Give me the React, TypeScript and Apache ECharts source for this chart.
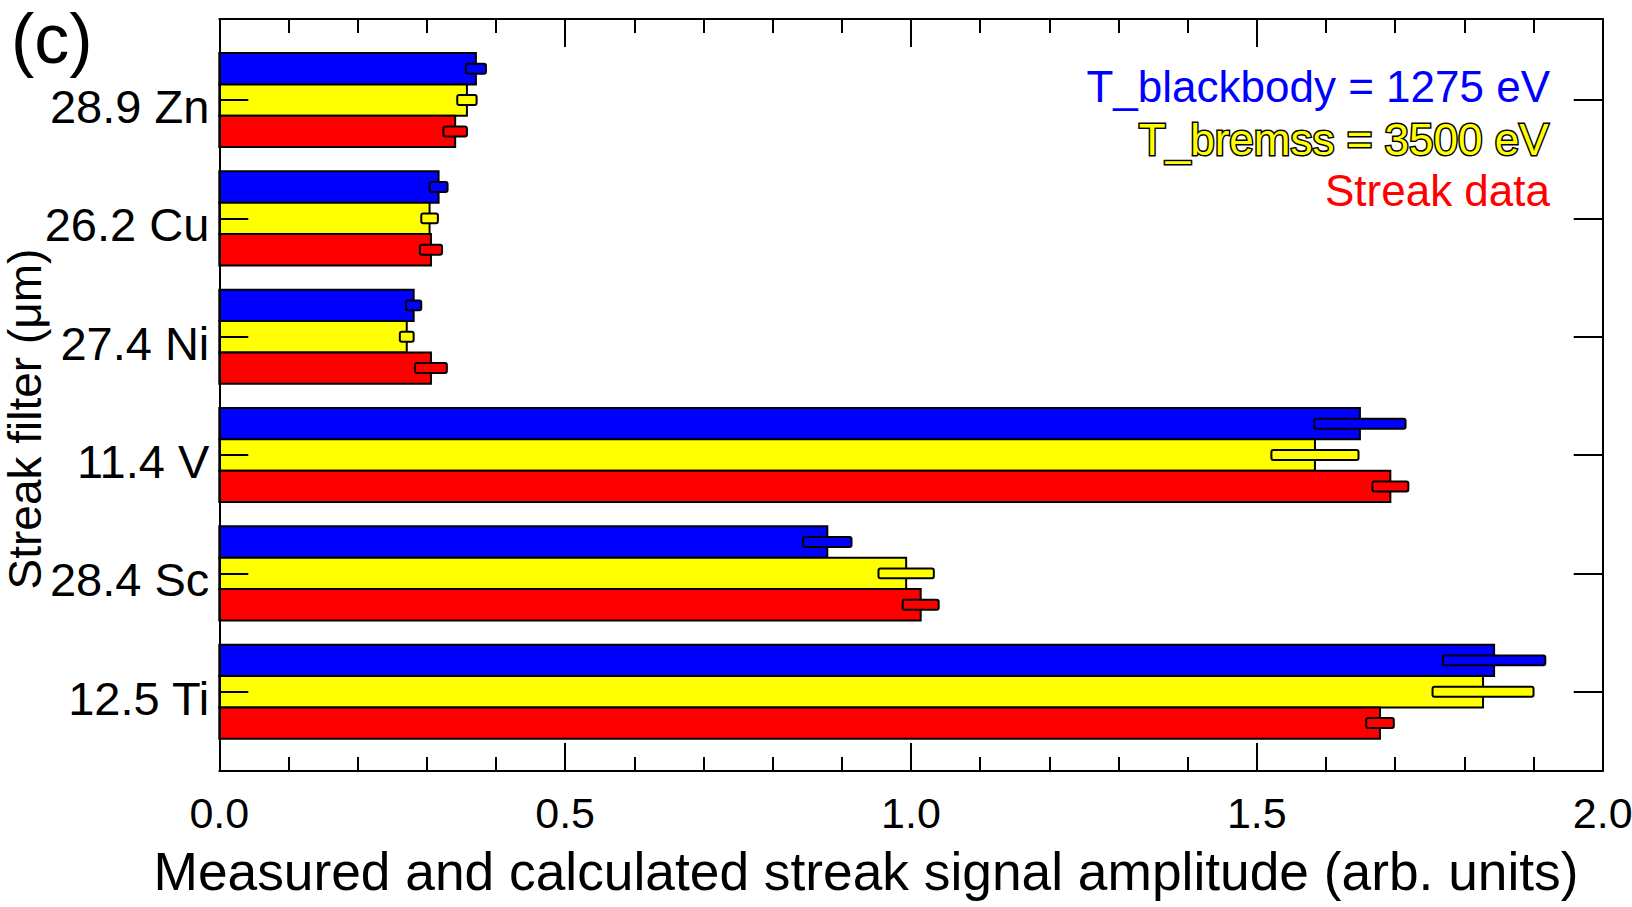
import React, { useEffect, useRef } from 'react';
import * as echarts from 'echarts';

// Categories from bottom (index 0) to top (index 5)
const categories = ['12.5 Ti', '28.4 Sc', '11.4 V', '27.4 Ni', '26.2 Cu', '28.9 Zn'];

const blackbodyValues = [1.843, 0.879, 1.649, 0.281, 0.317, 0.371];
const blackbodyErrors = [0.074, 0.035, 0.066, 0.011, 0.013, 0.0145];

const bremssValues = [1.827, 0.993, 1.584, 0.271, 0.304, 0.358];
const bremssErrors = [0.073, 0.040, 0.063, 0.010, 0.012, 0.014];

const streakValues = [1.678, 1.014, 1.693, 0.306, 0.306, 0.341];
const streakErrors = [0.020, 0.026, 0.026, 0.023, 0.016, 0.017];

const seriesNames = ['T_blackbody = 1275 eV', 'T_bremss = 3500 eV', 'Streak data'];
const seriesColors = ['#0000ff', '#ffff00', '#ff0000'];

const xTickValues = [0, 0.5, 1.0, 1.5, 2.0];
const categoryTickValues = [0, 1, 2, 3, 4, 5];

const FONT = '"Liberation Sans", Arial, Helvetica, sans-serif';

function makeRender(offset: number, color: string) {
  return (_params: any, api: any) => {
    const v = api.value(0);
    const c = api.value(1);
    const e = api.value(2);
    const barHalf = 0.1325;
    const errHalf = 0.042;
    const a = api.coord([0, c + offset + barHalf]);
    const b = api.coord([v, c + offset - barHalf]);
    const ea = api.coord([v - e, c + offset + errHalf]);
    const eb = api.coord([v + e, c + offset - errHalf]);
    return {
      type: 'group',
      children: [
        {
          type: 'rect',
          shape: { x: a[0], y: a[1], width: b[0] - a[0], height: b[1] - a[1] },
          style: { fill: color, stroke: '#000', lineWidth: 2 },
        },
        {
          type: 'rect',
          shape: { x: ea[0], y: ea[1], width: eb[0] - ea[0], height: eb[1] - ea[1], r: 2 },
          style: { fill: color, stroke: '#000', lineWidth: 2 },
        },
      ],
    };
  };
}

export default function App() {
  const ref = useRef<HTMLDivElement>(null);

  useEffect(() => {
    if (!ref.current) return;
    const chart = echarts.init(ref.current, undefined, { renderer: 'svg' });

    const valueSets = [blackbodyValues, bremssValues, streakValues];
    const errorSets = [blackbodyErrors, bremssErrors, streakErrors];
    const offsets = [0.265, 0, -0.265];

    const yMin = -0.67;
    const yMax = 5.685;
    // category labels sit slightly below the category centre in the reference
    const labelShift = 0.055;

    const axisLineStyle = { color: '#000', width: 2 };

    const option: any = {
      animation: false,
      backgroundColor: '#fff',
      grid: {
        left: 219.3,
        right: 29.3,
        top: 19,
        bottom: 136,
        containLabel: false,
        outerBoundsMode: 'none',
      },
      xAxis: [
        {
          type: 'value',
          position: 'bottom',
          min: 0,
          max: 2,
          interval: 0.5,
          axisLine: { show: true, onZero: false, lineStyle: axisLineStyle },
          axisTick: { show: true, inside: true, length: 28, lineStyle: axisLineStyle },
          minorTick: { show: true, splitNumber: 5, length: 14, lineStyle: axisLineStyle },
          splitLine: { show: false },
          axisLabel: {
            show: true,
            margin: 20,
            fontSize: 43,
            fontFamily: FONT,
            color: '#000',
            customValues: xTickValues,
            formatter: (v: number) => v.toFixed(1),
          },
          name: 'Measured and calculated streak signal amplitude (arb. units)',
          nameLocation: 'middle',
          nameGap: 74,
          nameMoveOverlap: false,
          nameTextStyle: { fontSize: 53.3, fontFamily: FONT, color: '#000', padding: [0, 90, 0, 0] },
        },
        {
          type: 'value',
          position: 'top',
          min: 0,
          max: 2,
          interval: 0.5,
          axisLine: { show: true, onZero: false, lineStyle: axisLineStyle },
          axisTick: { show: true, inside: true, length: 28, lineStyle: axisLineStyle },
          minorTick: { show: true, splitNumber: 5, length: 14, lineStyle: axisLineStyle },
          splitLine: { show: false },
          axisLabel: { show: false },
        },
      ],
      yAxis: [
        {
          type: 'value',
          position: 'left',
          z: 10,
          min: yMin,
          max: yMax,
          axisLine: { show: true, onZero: false, lineStyle: axisLineStyle },
          axisTick: { show: true, inside: true, length: 29, lineStyle: axisLineStyle, customValues: categoryTickValues },
          splitLine: { show: false },
          axisLabel: {
            show: true,
            margin: 10,
            fontSize: 47,
            fontFamily: FONT,
            color: '#000',
            customValues: categoryTickValues.map((v) => v - labelShift),
            formatter: (v: number) => categories[Math.round(v)] ?? '',
          },
          name: 'Streak filter (\u03bcm)',
          nameLocation: 'middle',
          nameRotate: 90,
          nameGap: 174,
          nameMoveOverlap: false,
          nameTextStyle: {
            fontSize: 46,
            lineHeight: 40,
            fontFamily: FONT,
            color: '#000',
            padding: [0, 48, 0, 0],
          },
        },
        {
          type: 'value',
          position: 'right',
          z: 10,
          min: yMin,
          max: yMax,
          axisLine: { show: true, onZero: false, lineStyle: axisLineStyle },
          axisTick: { show: true, inside: true, length: 29, lineStyle: axisLineStyle, customValues: categoryTickValues },
          splitLine: { show: false },
          axisLabel: { show: false },
        },
      ],
      legend: seriesNames.map((name, i) => ({
        data: [
          {
            name,
            icon: 'none',
            textStyle: {
              color: seriesColors[i],
              fontSize: 44,
              fontFamily: FONT,
              ...(i === 1 ? { textBorderColor: '#000', textBorderWidth: 3 } : {}),
            },
          },
        ],
        right: 82,
        top: [64, 116, 168][i],
        padding: 0,
        itemWidth: 0,
        itemHeight: 14,
        itemGap: 0,
        selectedMode: false,
        textStyle: { color: seriesColors[i], fontSize: 44, fontFamily: FONT },
      })),
      graphic: [
        {
          type: 'text',
          left: 11,
          top: 4,
          style: { text: '(c)', fontSize: 70, fontFamily: FONT, fill: '#000' },
        },
      ],
      series: seriesNames.map((name, i) => ({
        type: 'custom',
        name,
        xAxisIndex: 0,
        yAxisIndex: 0,
        clip: false,
        itemStyle: { color: seriesColors[i] },
        renderItem: makeRender(offsets[i], seriesColors[i]),
        encode: { x: 0, y: 1 },
        data: valueSets[i].map((v, k) => [v, k, errorSets[i][k]]),
      })),
    };

    chart.setOption(option);
    return () => chart.dispose();
  }, []);

  return (
    <div
      ref={ref}
      style={{ position: 'absolute', left: 0, top: 0, width: 1632, height: 907, background: '#fff' }}
    />
  );
}
